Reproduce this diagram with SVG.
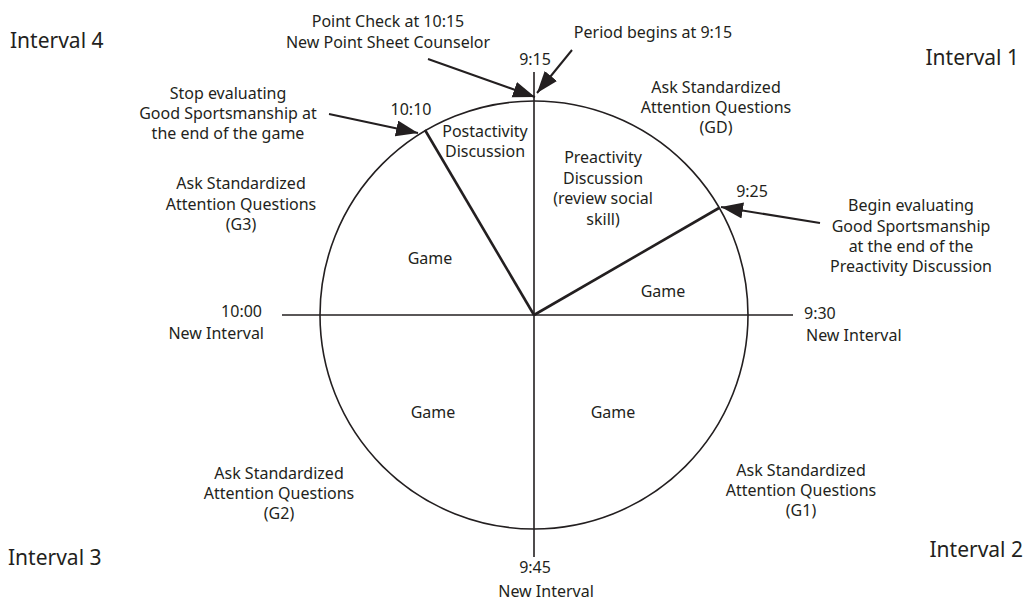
<svg xmlns="http://www.w3.org/2000/svg" width="1027" height="600" viewBox="0 0 1027 600">
  <style>
    text { font-family: "Noto Sans", "Open Sans", sans-serif; fill: #231f20; }
    .t { font-size: 16px; }
    .c { text-anchor: middle; }
    .r { text-anchor: end; }
    .big { font-size: 21px; }
    .ring { fill: none; stroke: #231f20; stroke-width: 1.6; }
    .axis { stroke: #231f20; stroke-width: 1.6; }
    .spoke { stroke: #231f20; stroke-width: 2.6; }
    .arrow { stroke: #231f20; stroke-width: 2; marker-end: url(#head); }
  </style>
  <defs>
    <marker id="head" markerUnits="userSpaceOnUse" markerWidth="24" markerHeight="18" refX="22" refY="8" orient="auto">
      <path d="M0,0 L22,8 L0,16 z" fill="#231f20"/>
    </marker>
  </defs>
  <rect width="1027" height="600" fill="#ffffff"/>

  <!-- clock face: circle, quarter axes and segment spokes -->
  <g id="clock">
    <circle class="ring" cx="534" cy="315" r="214"/>
    <line class="axis" x1="534" y1="72" x2="534" y2="557"/>
    <line class="axis" x1="282" y1="315" x2="793" y2="315"/>
    <line class="spoke" x1="534" y1="315" x2="719" y2="208"/>
    <line class="spoke" x1="534" y1="315" x2="425" y2="130"/>
  </g>

  <!-- callout arrows -->
  <g id="connectors">
    <line class="arrow" x1="428" y1="59" x2="535" y2="97"/>
    <line class="arrow" x1="572" y1="50" x2="537" y2="93"/>
    <line class="arrow" x1="329" y1="114" x2="418" y2="133"/>
    <line class="arrow" x1="820" y1="223" x2="721" y2="207"/>
  </g>

  <!-- interval corner labels -->
  <g id="interval-4"><text class="big" x="10" y="48">Interval 4</text></g>
  <g id="interval-1"><text class="big r" x="1019" y="65">Interval 1</text></g>
  <g id="interval-3"><text class="big" x="8" y="565">Interval 3</text></g>
  <g id="interval-2"><text class="big r" x="1023" y="557">Interval 2</text></g>

  <!-- time marks -->
  <g id="time-915"><text class="t c" x="535" y="65">9:15</text></g>
  <g id="time-925"><text class="t c" x="752" y="197">9:25</text></g>
  <g id="time-930">
    <text class="t" x="804" y="319">9:30</text>
    <text class="t" x="806" y="341">New Interval</text>
  </g>
  <g id="time-945">
    <text class="t c" x="535" y="573">9:45</text>
    <text class="t c" x="546" y="597">New Interval</text>
  </g>
  <g id="time-1000">
    <text class="t r" x="262" y="317">10:00</text>
    <text class="t r" x="264" y="339">New Interval</text>
  </g>
  <g id="time-1010"><text class="t c" x="411" y="115">10:10</text></g>

  <!-- callout notes -->
  <g id="note-point-check">
    <text class="t c" x="388" y="27">Point Check at 10:15</text>
    <text class="t c" x="388" y="48">New Point Sheet Counselor</text>
  </g>
  <g id="note-period-begins"><text class="t c" x="653" y="38">Period begins at 9:15</text></g>
  <g id="note-stop-evaluating">
    <text class="t c" x="228" y="99">Stop evaluating</text>
    <text class="t c" x="228" y="119">Good Sportsmanship at</text>
    <text class="t c" x="228" y="139">the end of the game</text>
  </g>
  <g id="note-begin-evaluating">
    <text class="t c" x="911" y="211">Begin evaluating</text>
    <text class="t c" x="911" y="232">Good Sportsmanship</text>
    <text class="t c" x="911" y="252">at the end of the</text>
    <text class="t c" x="911" y="272">Preactivity Discussion</text>
  </g>

  <!-- attention question prompts -->
  <g id="questions-gd">
    <text class="t c" x="716" y="93">Ask Standardized</text>
    <text class="t c" x="716" y="113">Attention Questions</text>
    <text class="t c" x="716" y="133">(GD)</text>
  </g>
  <g id="questions-g3">
    <text class="t c" x="241" y="189">Ask Standardized</text>
    <text class="t c" x="241" y="210">Attention Questions</text>
    <text class="t c" x="241" y="230">(G3)</text>
  </g>
  <g id="questions-g2">
    <text class="t c" x="279" y="479">Ask Standardized</text>
    <text class="t c" x="279" y="499">Attention Questions</text>
    <text class="t c" x="279" y="519">(G2)</text>
  </g>
  <g id="questions-g1">
    <text class="t c" x="801" y="476">Ask Standardized</text>
    <text class="t c" x="801" y="496">Attention Questions</text>
    <text class="t c" x="801" y="516">(G1)</text>
  </g>

  <!-- segment labels inside the clock -->
  <g id="seg-postactivity">
    <text class="t c" x="485" y="137">Postactivity</text>
    <text class="t c" x="485" y="157">Discussion</text>
  </g>
  <g id="seg-preactivity">
    <text class="t c" x="603" y="163">Preactivity</text>
    <text class="t c" x="603" y="184">Discussion</text>
    <text class="t c" x="603" y="204">(review social</text>
    <text class="t c" x="603" y="225">skill)</text>
  </g>
  <g id="seg-game-upper-left"><text class="t c" x="430" y="264">Game</text></g>
  <g id="seg-game-upper-right"><text class="t c" x="663" y="297">Game</text></g>
  <g id="seg-game-lower-left"><text class="t c" x="433" y="418">Game</text></g>
  <g id="seg-game-lower-right"><text class="t c" x="613" y="418">Game</text></g>
</svg>
